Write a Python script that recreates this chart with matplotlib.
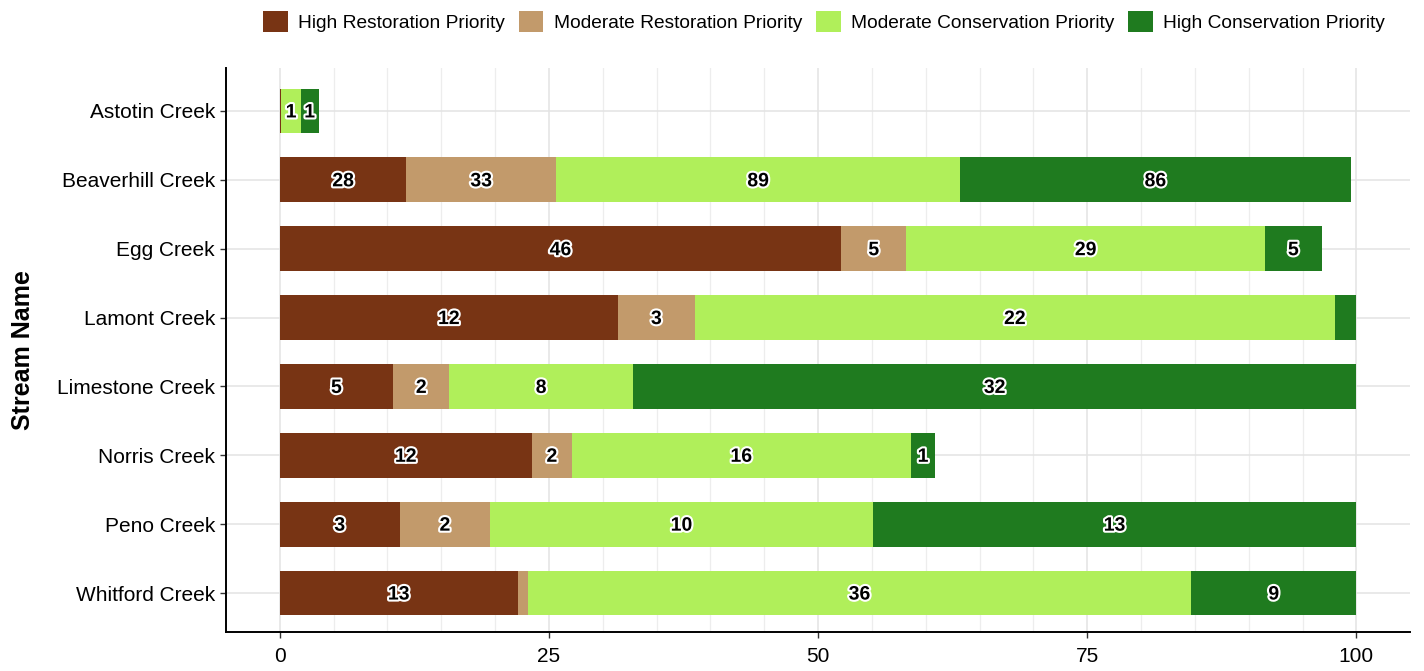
import numpy as np
import matplotlib
matplotlib.use("Agg")
import matplotlib.pyplot as plt
import matplotlib.patheffects as pe
from matplotlib.patches import Patch

# ------------------ DATA ------------------

streams = ["Astotin Creek", "Beaverhill Creek", "Egg Creek", "Lamont Creek",
           "Limestone Creek", "Norris Creek", "Peno Creek", "Whitford Creek"]

categories = ["High Restoration Priority", "Moderate Restoration Priority",
              "Moderate Conservation Priority", "High Conservation Priority"]

# percent of stream (bar widths)
high_rest_pct = [0.15, 11.76, 52.15, 31.4, 10.52, 23.4, 11.14, 22.1]
mod_rest_pct  = [0.0, 13.9, 6.05, 7.16, 5.23, 3.74, 8.39, 0.95]
mod_cons_pct  = [1.8, 37.54, 33.3, 59.42, 17.05, 31.46, 35.56, 61.6]
high_cons_pct = [1.65, 36.27, 5.3, 2.02, 67.2, 2.3, 44.91, 15.35]

# counts shown on the bars (None = not labelled)
high_rest_n = [None, 28, 46, 12, 5, 12, 3, 13]
mod_rest_n  = [None, 33, 5, 3, 2, 2, 2, None]
mod_cons_n  = [1, 89, 29, 22, 8, 16, 10, 36]
high_cons_n = [1, 86, 5, None, 32, 1, 13, 9]

colors = ["#783414", "#C29A6B", "#B0EF5A", "#1F7B1F"]

# ------------------ PLOT ------------------

plt.rcParams["font.family"] = ["Liberation Sans", "DejaVu Sans"]

fig = plt.figure(figsize=(14.24, 6.71), dpi=100)
ax = fig.add_axes([0.1587, 0.0581, 0.8316, 0.8406])

pcts   = [high_rest_pct, mod_rest_pct, mod_cons_pct, high_cons_pct]
counts = [high_rest_n, mod_rest_n, mod_cons_n, high_cons_n]

y = np.arange(len(streams))
left = np.zeros(len(streams))
outline = [pe.withStroke(linewidth=3, foreground="white")]

for pct, n, col in zip(pcts, counts, colors):
    pct = np.array(pct)
    ax.barh(y, pct, left=left, height=0.65, color=col, edgecolor="none", zorder=3)
    for yi, l, w, lab in zip(y, left, pct, n):
        if lab is not None and w > 0:
            ax.text(l + w / 2, yi, str(lab), ha="center", va="center_baseline",
                    fontsize=14, fontweight="bold", color="black",
                    path_effects=outline, zorder=4)
    left = left + pct

ax.set_xlim(-5, 105)
ax.set_ylim(7.566, -0.624)
ax.set_yticks(y)
ax.set_yticklabels(streams, fontsize=15)
ax.set_xticks([0, 25, 50, 75, 100])
ax.set_xticklabels(["0", "25", "50", "75", "100"], fontsize=15)
ax.set_xticks(np.arange(0, 101, 5), minor=True)

ax.grid(True, which="major", color="#E3E3E3", linewidth=1.1, zorder=0)
ax.grid(True, which="minor", axis="x", color="#EDEDED", linewidth=0.9, zorder=0)
ax.set_axisbelow(True)

for s in ["top", "right"]:
    ax.spines[s].set_visible(False)
for s in ["left", "bottom"]:
    ax.spines[s].set_linewidth(1.4)
    ax.spines[s].set_color("black")
ax.tick_params(axis="y", which="major", length=4, width=1, color="#333333",
               labelcolor="black", pad=4)
ax.tick_params(axis="x", which="major", length=4, width=1, color="#333333",
               labelcolor="black", pad=7)
ax.tick_params(axis="x", which="minor", length=0)

ax.set_ylabel("Stream Name", fontsize=18, fontweight="bold", labelpad=16)

handles = [Patch(facecolor=c, edgecolor="none", label=lab) for c, lab in zip(colors, categories)]
fig.legend(handles=handles, loc="center", bbox_to_anchor=(0.5787, 0.968), ncol=4,
           frameon=False, fontsize=13.8, handlelength=1.3, handleheight=1.3,
           handletextpad=0.55, columnspacing=0.7)

fig.savefig("out.png", dpi=100)
